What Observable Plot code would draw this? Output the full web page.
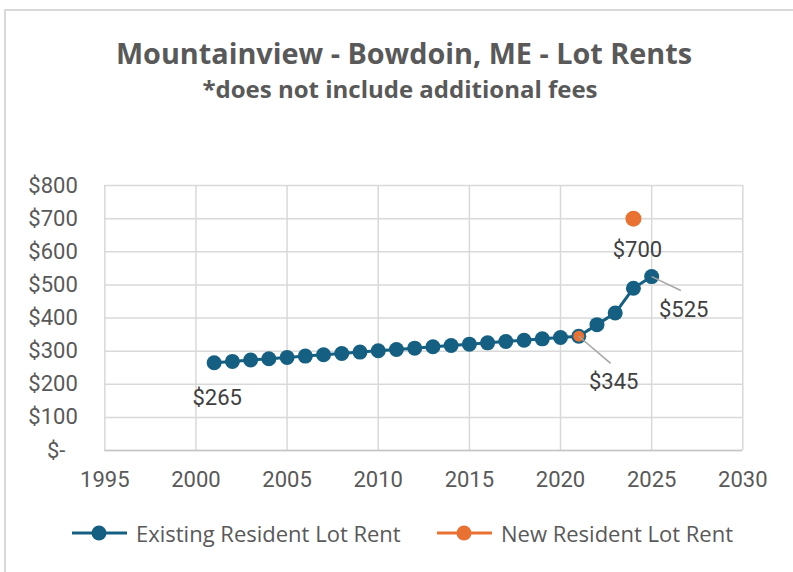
<!DOCTYPE html>
<html><head><meta charset="utf-8">
<script src="https://cdn.jsdelivr.net/npm/d3@7"></script>
<script src="https://cdn.jsdelivr.net/npm/@observablehq/plot@0.6"></script>
<style>
body{margin:0;background:#fff;font-family:Roboto, "Noto Sans", sans-serif;}
#frame{position:relative;width:793px;height:572px;overflow:hidden;background:#fff;}
#bl{position:absolute;left:4px;top:9px;width:1.5px;height:600px;background:#d9d9d9;}
#bt{position:absolute;left:4px;top:9px;width:800px;height:1.5px;background:#d9d9d9;}
#title{position:absolute;left:0;width:808px;top:35px;text-align:center;font-family:"Open Sans", sans-serif;font-weight:700;font-size:28.8px;line-height:36px;color:#595959;}
#subtitle{position:absolute;left:0;width:800px;top:74px;text-align:center;font-family:"Open Sans", sans-serif;font-weight:700;font-size:24px;line-height:30px;color:#595959;}
#chart{position:absolute;left:0;top:160px;}
.lg{position:absolute;top:519px;height:28px;font-family:"Open Sans", sans-serif;font-size:22px;line-height:28px;color:#595959;white-space:nowrap;}
.sw{position:absolute;top:525px;}
</style></head><body>
<div id="frame">
  <div id="bl"></div><div id="bt"></div>
  <div id="title">Mountainview - Bowdoin, ME - Lot Rents</div>
  <div id="subtitle">*does not include additional fees</div>
  <div id="chart"></div>
  <svg class="sw" style="left:71px" width="58" height="16"><line x1="1" y1="8" x2="56" y2="8" stroke="#156082" stroke-width="3"/><circle cx="28" cy="8" r="7.5" fill="#156082"/></svg>
  <div class="lg" style="left:136px">Existing Resident Lot Rent</div>
  <svg class="sw" style="left:436px" width="58" height="16"><line x1="1" y1="8" x2="56" y2="8" stroke="#E97132" stroke-width="3"/><circle cx="28" cy="8" r="7.5" fill="#E97132"/></svg>
  <div class="lg" style="left:501px">New Resident Lot Rent</div>
</div>
<script>
const years = [2001,2002,2003,2004,2005,2006,2007,2008,2009,2010,2011,2012,2013,2014,2015,2016,2017,2018,2019,2020,2021,2022,2023,2024,2025];
const existingRent = [265,269,273,277,281,285,289,293,297,301,305,309,313,317,321,325,329,333,337,341,345,380,415,490,525];
const newYears = [2021, 2024];
const newRent = [345, 700];
const xTicks = [1995,2000,2005,2010,2015,2020,2025,2030];
const yTicks = [0,100,200,300,400,500,600,700,800];
const labelYears = [2001, 2021, 2025, 2024];
const labelValues = [265, 345, 525, 700];
const labelTexts = ["$265", "$345", "$525", "$700"];

const existing = years.map((y, i) => ({year: y, rent: existingRent[i]}));
const newer = newYears.map((y, i) => ({year: y, rent: newRent[i]}));
const labels = labelYears.map((y, i) => ({year: y, rent: labelValues[i], text: labelTexts[i]}));

const blue = "#156082", orange = "#E97132", grid = "#d9d9d9", txt = "#595959";
const lab = (yr) => labels.filter(d => d.year === yr);

const chart = Plot.plot({
  width: 793, height: 320,
  marginLeft: 104.3, marginRight: 50.7, marginTop: 25, marginBottom: 30,
  style: {fontFamily: "Roboto", fontSize: "22px", color: txt, background: "transparent", overflow: "visible"},
  x: {domain: [1995, 2030]},
  y: {domain: [0, 800]},
  marks: [
    Plot.gridY(yTicks, {stroke: grid, strokeOpacity: 1, strokeWidth: 1.5}),
    Plot.gridX(xTicks, {stroke: grid, strokeOpacity: 1, strokeWidth: 1.5}),
    Plot.ruleY([0], {stroke: "#c6c6c6", strokeWidth: 1.5}),
    Plot.axisY(yTicks, {tickSize: 0, tickPadding: 27, fontSize: 22, fill: txt, label: null,
      tickFormat: d => d === 0 ? "$-\u2007" : "$" + d}),
    Plot.axisX(xTicks, {tickSize: 0, tickPadding: 21, fontSize: 22, fill: txt, label: null,
      tickFormat: d => String(d)}),
    Plot.line(existing, {x: "year", y: "rent", stroke: blue, strokeWidth: 3}),
    Plot.dot(existing, {x: "year", y: "rent", r: 7.5, fill: blue}),
    Plot.dot(newer.filter(d => d.year === 2021), {x: "year", y: "rent", r: 5.5, fill: orange}),
    Plot.dot(newer.filter(d => d.year === 2024), {x: "year", y: "rent", r: 8, fill: orange}),
    Plot.link(lab(2021), {x1: "year", y1: "rent", x2: d => d.year + 1.75, y2: d => d.rent - 82, stroke: "#a6a6a6", strokeWidth: 1.5}),
    Plot.link(lab(2025), {x1: "year", y1: "rent", x2: d => d.year + 1.6, y2: d => d.rent - 42, stroke: "#a6a6a6", strokeWidth: 1.5}),
    Plot.text(lab(2001), {x: "year", y: "rent", text: "text", dx: 3, dy: 35, fontSize: 22, fill: "#404040"}),
    Plot.text(lab(2021), {x: "year", y: "rent", text: "text", dx: 35, dy: 46, fontSize: 22, fill: "#404040"}),
    Plot.text(lab(2025), {x: "year", y: "rent", text: "text", dx: 32, dy: 33, fontSize: 22, fill: "#404040"}),
    Plot.text(lab(2024), {x: "year", y: "rent", text: "text", dx: 4, dy: 31, fontSize: 22, fill: "#404040"})
  ]
});
document.getElementById("chart").appendChild(chart);
</script>
</body></html>
